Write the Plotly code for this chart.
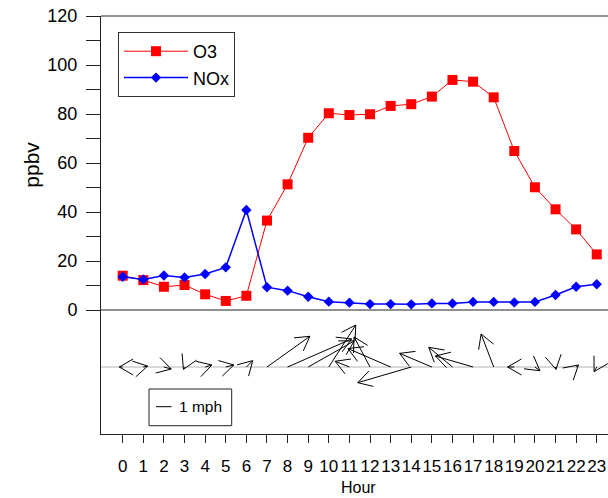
import math
import plotly.graph_objects as go

# ---------------- data ----------------
hours = list(range(24))
hour_labels = [str(h) for h in hours]
o3 = [14.0, 12.2, 9.5, 10.2, 6.4, 3.7, 5.8, 36.5, 51.3, 70.3, 80.3, 79.6,
      79.9, 83.3, 84.0, 87.1, 93.9, 93.2, 86.8, 64.9, 50.1, 41.1, 32.9, 22.7]
nox = [13.6, 12.5, 14.1, 13.3, 14.7, 17.4, 40.8, 9.3, 7.9, 5.4, 3.4, 3.0,
       2.4, 2.4, 2.3, 2.7, 2.7, 3.3, 3.3, 3.1, 3.3, 6.1, 9.5, 10.5]
# wind vector components (mph), u = east, v = north
wind_u = [-0.22, 0.28, 0.47, -0.07, 0.43, 0.52, 0.41, 2.77, 4.13, 2.97, 1.74, -0.92,
          -1.03, -2.75, -3.45, -2.08, -1.53, -2.43, -0.81, -0.43, 0.32, 0.03, 0.15, -0.17]
wind_v = [0.0, 0.06, -0.13, -0.15, 0.13, 0.13, 0.41, 1.98, 1.81, 1.68, 2.71, 0.37,
          1.94, 1.19, -1.01, 0.88, 1.27, 0.71, 2.13, 0.0, -0.24, -0.15, 0.13, -0.30]
y_ticks_major = [0, 20, 40, 60, 80, 100, 120]

# ---------------- layout constants ----------------
W, H = 608, 498
ML, MR, MT, MB = 101, 0, 16, 64
X_RANGE = [-1.053, 23.546]
TOP_PX, BOT_PX = 294, 124
PLOT_H = TOP_PX + BOT_PX
SPLIT = BOT_PX / PLOT_H
PX_PER_MPH = 15.5
Y2_RANGE = [-67 / PX_PER_MPH, 57 / PX_PER_MPH]
HEAD_PX = 16
HEAD_ANG = math.pi / 6
FONT = "Arial, Liberation Sans, sans-serif"

px_per_hr = (W - ML - MR) / (X_RANGE[1] - X_RANGE[0])

# ---------------- wind arrows ----------------
ax_, ay_ = [], []
for h, u, v in zip(hours, wind_u, wind_v):
    tx, ty = u * PX_PER_MPH, v * PX_PER_MPH
    x_tip = h + tx / px_per_hr
    y_tip = v
    ax_ += [h, x_tip, None]
    ay_ += [0, y_tip, None]
    ang = math.atan2(ty, tx)
    for s in (1, -1):
        a = ang + math.pi + s * HEAD_ANG
        hx = tx + HEAD_PX * math.cos(a)
        hy = ty + HEAD_PX * math.sin(a)
        ax_ += [x_tip, h + hx / px_per_hr, None]
        ay_ += [y_tip, hy / PX_PER_MPH, None]

fig = go.Figure()
fig.add_trace(go.Scatter(x=hours, y=o3, name="O3", mode="lines+markers",
                         line=dict(color="#ff0000", width=1),
                         marker=dict(symbol="square", size=10, color="#ff0000"),
                         xaxis="x", yaxis="y"))
fig.add_trace(go.Scatter(x=hours, y=nox, name="NOx", mode="lines+markers",
                         line=dict(color="#0000ff", width=1.5),
                         marker=dict(symbol="diamond", size=8, color="#0000ff"),
                         xaxis="x", yaxis="y"))
fig.add_trace(go.Scatter(x=ax_, y=ay_, mode="lines", showlegend=False,
                         line=dict(color="black", width=1),
                         xaxis="x", yaxis="y2", hoverinfo="skip"))

# 1 mph scale legend
key_x0 = X_RANGE[0] + (156 - ML) / px_per_hr
key_y = Y2_RANGE[0] + (434 - 406.7) / PX_PER_MPH

shapes = [
    dict(type="line", xref="paper", yref="paper", x0=0, x1=1, y0=1, y1=1,
         line=dict(color="#222", width=1)),
    dict(type="line", xref="paper", yref="paper", x0=0, x1=1, y0=SPLIT, y1=SPLIT,
         line=dict(color="#222", width=1)),
    dict(type="line", xref="paper", yref="y2", x0=0, x1=1, y0=0, y1=0,
         line=dict(color="#b4b4b4", width=1), layer="below"),
    dict(type="rect", xref="paper", yref="paper",
         x0=(149 - ML) / (W - ML), x1=(231.7 - ML) / (W - ML),
         y0=(434 - 425.7) / PLOT_H, y1=(434 - 389) / PLOT_H,
         line=dict(color="#222", width=1)),
    dict(type="line", xref="x", yref="y2", x0=key_x0, x1=key_x0 + PX_PER_MPH / px_per_hr,
         y0=key_y, y1=key_y, line=dict(color="black", width=1)),
]

annotations = [
    dict(text="1 mph", xref="x", yref="y2", x=key_x0 + (177 - 156) / px_per_hr, y=key_y,
         xanchor="left", yanchor="middle", showarrow=False,
         font=dict(family=FONT, size=15.5, color="black")),
    dict(text="ppbv", xref="paper", yref="paper", x=(30.7 - ML) / (W - ML),
         y=(434 - 165) / PLOT_H, textangle=-90, xanchor="center", yanchor="middle",
         showarrow=False, font=dict(family=FONT, size=21, color="black")),
    dict(text="Hour", xref="paper", yref="paper", x=(358 - ML) / (W - ML),
         y=(434 - 498) / PLOT_H, xanchor="center", yanchor="bottom",
         showarrow=False, font=dict(family=FONT, size=16, color="black")),
]

fig.update_layout(
    width=W, height=H,
    margin=dict(l=ML, r=MR, t=MT, b=MB, pad=0),
    paper_bgcolor="white", plot_bgcolor="white",
    font=dict(family=FONT, size=18, color="black"),
    xaxis=dict(range=X_RANGE, anchor="y2", domain=[0, 1],
               tickmode="array", tickvals=hours, ticktext=hour_labels,
               ticks="outside", ticklen=8, tickcolor="#222", tickangle=0,
               showline=True, linecolor="#222", linewidth=1,
               showgrid=False, zeroline=False, ticklabelstandoff=9,
               tickfont=dict(size=17)),
    yaxis=dict(domain=[SPLIT, 1], range=[0, 120], anchor="x",
               tickmode="array", tickvals=y_ticks_major,
               ticks="outside", ticklen=7, tickcolor="#222",
               minor=dict(dtick=10, ticklen=14, ticks="outside", tickcolor="#222", tick0=0),
               showline=True, linecolor="#222", linewidth=1,
               showgrid=False, zeroline=False, ticklabelstandoff=12,
               tickfont=dict(size=18)),
    yaxis2=dict(domain=[0, SPLIT], range=Y2_RANGE, anchor="x",
                showticklabels=False, ticks="", showline=True, linecolor="#222",
                linewidth=1, showgrid=False, zeroline=False),
    legend=dict(x=(118 - ML) / (W - ML), y=(434 - 32) / PLOT_H,
                xanchor="left", yanchor="top", bordercolor="#333", borderwidth=1,
                bgcolor="white", font=dict(size=18), itemwidth=64,
                tracegroupgap=0),
    shapes=shapes,
    annotations=annotations,
)

fig.write_html("out.html")
